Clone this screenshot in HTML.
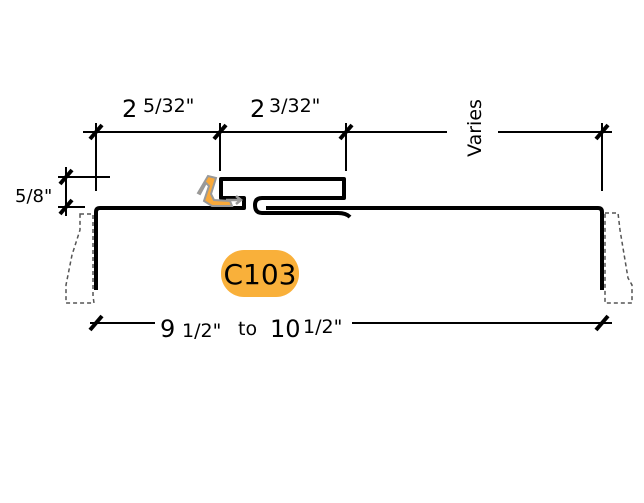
<!DOCTYPE html>
<html><head><style>body{margin:0;background:#fff}svg{display:block}text{font-family:"DejaVu Sans","Liberation Sans",sans-serif;fill:#000}</style></head>
<body>
<svg width="644" height="503" viewBox="0 0 644 503">
<g stroke="#000" stroke-width="2" fill="none">
<line x1="83" y1="132" x2="447" y2="132"/>
<line x1="498" y1="132" x2="612" y2="132"/>
<line x1="96" y1="123" x2="96" y2="191"/>
<line x1="220" y1="123" x2="220" y2="171"/>
<line x1="346" y1="123" x2="346" y2="171"/>
<line x1="602" y1="123" x2="602" y2="191"/>
<line x1="66" y1="167" x2="66" y2="216"/>
<line x1="58" y1="177" x2="110" y2="177"/>
<line x1="58" y1="207" x2="85" y2="207"/>
<line x1="90" y1="323" x2="155" y2="323"/>
<line x1="352" y1="323" x2="612" y2="323"/>
</g>
<g stroke="#000" stroke-width="4">
<line x1="90" y1="139" x2="102" y2="125"/>
<line x1="214" y1="139" x2="226" y2="125"/>
<line x1="340" y1="139" x2="352" y2="125"/>
<line x1="596" y1="139" x2="608" y2="125"/>
<line x1="60" y1="184" x2="72" y2="170"/>
<line x1="60" y1="214" x2="72" y2="200"/>
<line x1="90" y1="330" x2="102" y2="316"/>
<line x1="596" y1="330" x2="608" y2="316"/>
</g>
<g stroke="#555" stroke-width="1.5" stroke-dasharray="4,3" fill="none">
<path d="M80 214 H93 V296 L94 303 H66 V285 L72 255 L80 230 Z"/>
<path d="M605 213 H618 L620 230 L628 278 L632 285 V303 H605 V296 Z"/>
</g>
<path d="M96 290 V212 Q96 208 100 208 H244 V198 H221 V179 H344 V198 H262 Q255 198 255 205 Q255 213 262 213 H338 Q346 213 350 217" stroke="#000" stroke-width="4" fill="none" stroke-linejoin="round"/>
<path d="M602 290 V212 Q602 208 598 208 H266" stroke="#000" stroke-width="4" fill="none"/>
<path d="M198 193 L208 176 L216 178 L211 194 L214 200 L230 201 L232 206 L212 206 L204 201 L209 186 L206 183 L200 194 Z" fill="#f9a93a" stroke="#999" stroke-width="2"/>
<path d="M226 200 H240 M236 196 L241 200 L236 204" stroke="#999" stroke-width="2.5" fill="none"/>
<rect x="221" y="250" width="78" height="47" rx="23" fill="#f9b03a"/>
<text x="260" y="284" font-size="28" text-anchor="middle">C103</text>
<text x="122" y="117" font-size="24">2</text><text x="143" y="112" font-size="19">5/32"</text>
<text x="250" y="117" font-size="24">2</text><text x="269" y="112" font-size="19">3/32"</text>
<text x="15" y="202" font-size="18">5/8"</text>
<text x="160" y="337" font-size="24">9</text><text x="182" y="337" font-size="19">1/2"</text>
<text x="238" y="335" font-size="19">to</text>
<text x="270" y="337" font-size="24">10</text><text x="303" y="333" font-size="19">1/2"</text>
<text transform="translate(481 128) rotate(-90)" font-size="19" text-anchor="middle">Varies</text>
</svg>
</body></html>
